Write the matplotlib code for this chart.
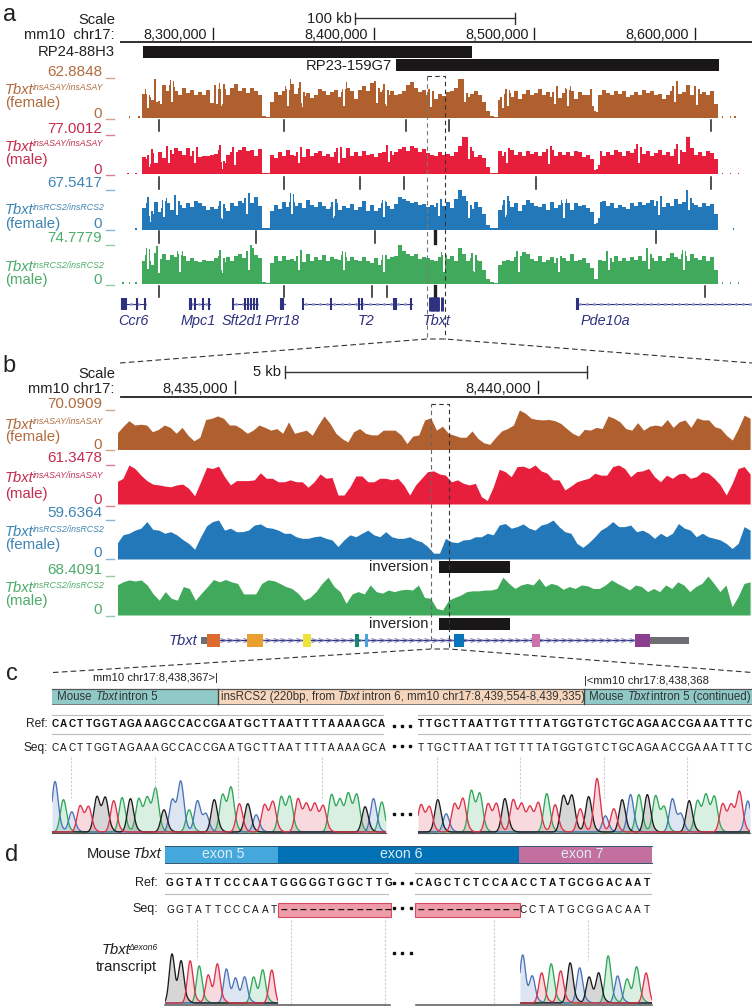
import numpy as np
import matplotlib
matplotlib.use('Agg')
import matplotlib.pyplot as plt
from matplotlib.patches import Rectangle

plt.rcParams['font.family'] = ['Liberation Sans', 'DejaVu Sans']

# ---- panel a, coverage in % of the track maximum, bins of about 2.5 kb
a_brown = [62,50,46,83,37,84,70,80,68,60,76,64,72,60,66,58,72,38,70,62,74,58,78,88,70,78,64,76,68,60,
           4,3,
           42,66,58,68,60,88,62,76,56,64,52,60,74,70,58,66,72,55,62,78,68,48,72,82,70,90,78,66,72,60,
           68,58,62,70,84,92,78,66,72,60,58,50,62,56,66,70,76,100,82,54,62,70,60,40,18,
           4,3,
           45,52,60,55,68,48,62,72,60,64,74,58,66,55,70,52,64,60,70,48,66,60,58,62,
           16,
           60,72,64,58,70,62,68,55,60,66,58,72,64,70,58,62,48,60,68,80,62,66,84,60,68,62,66,58,68,35]
a_red = [45,40,55,30,58,42,60,52,66,60,50,66,48,58,44,48,46,50,52,62,30,50,58,48,62,70,60,62,48,64,
         4,3,
         50,42,58,46,62,50,46,58,44,64,48,54,60,46,52,44,56,60,42,66,48,58,46,60,50,52,44,54,58,62,
         50,56,64,70,60,72,66,58,64,54,50,46,56,50,52,48,56,72,95,78,60,45,50,42,18,
         4,3,
         60,46,56,62,50,58,48,60,52,56,46,58,52,62,48,56,50,58,46,60,56,44,50,38,
         12,
         50,46,58,50,62,56,48,60,54,64,58,52,60,48,54,62,50,58,46,64,52,58,94,66,50,56,48,60,54,40]
a_blue = [55,68,40,70,45,62,68,50,72,62,54,66,58,72,66,60,50,58,52,60,54,46,68,60,72,66,78,68,82,60,
          4,3,
          48,62,52,70,58,76,60,68,54,74,62,56,70,60,52,58,66,50,60,54,64,50,58,72,48,62,46,54,62,60,
          52,64,82,76,72,68,70,62,64,58,62,56,66,60,70,54,76,100,86,60,52,70,56,38,12,
          4,3,
          50,62,72,56,66,48,62,74,68,60,58,64,50,70,54,62,56,66,50,68,60,62,54,44,
          14,
          58,72,60,66,54,62,58,52,68,60,70,62,66,74,60,72,56,66,60,78,64,70,100,68,62,58,66,60,64,38]
a_green = [60,75,50,80,55,76,62,74,70,64,72,58,66,60,56,62,60,58,66,72,56,70,60,72,78,66,70,92,74,66,
           4,3,
           55,72,60,72,62,64,58,74,56,76,60,70,62,74,58,68,64,62,70,58,68,62,58,70,60,54,66,50,62,64,
           68,72,100,84,78,72,76,64,70,66,62,58,68,60,64,72,60,92,78,60,66,62,58,36,14,
           4,3,
           50,60,62,58,70,60,82,78,64,60,72,56,62,68,54,60,66,58,76,60,62,66,54,40,
           14,
           62,58,70,56,72,60,66,58,68,62,72,60,76,66,60,72,58,66,80,70,64,72,60,78,66,62,72,60,70,36]
# narrow coverage drops seen in each track, kb
a_drops = [[8259.6,8265.2,8274.5,8302.5,8305.6,8347.3,8355.4,8382.1,8402.7,8407.7,8436.3,8457.4,8481.1,8484.2,
            8513.4,8521.5,8537.1,8588.1,8601.8],
           [8260.8,8273.2,8288.8,8305.6,8313.7,8354.1,8379.0,8410.1,8459.9,8483.6,8509.7,8540.8,8565.7,8590.6],
           [8260.8,8270.1,8278.2,8305.6,8321.2,8349.2,8375.9,8407.0,8441.3,8459.9,8483.0,8519.0,8540.8,8578.2,8596.8],
           [8259.6,8267.0,8279.5,8305.6,8323.0,8354.1,8382.1,8407.0,8444.4,8463.0,8491.0,8515.9,8547.1,8571.9,8593.7]]
a_maxima = ['62.8848', '77.0012', '67.5417', '74.7779']
a_start = 8255800
a_bin = 2490
a_ticks = [8300000, 8400000, 8500000, 8600000]
a_bacs = [('RP24-88H3', 8256400, 8461200), ('RP23-159G7', 8413900, 8614900)]
a_marks = [[8266700, 8343900, 8420100, 8446900, 8609900],
           [8266700, 8343900, 8391500, 8418900, 8501000, 8609900],
           [8266700, 8326800, 8400800, 8438150, 8575700],
           [8266700, 8343900, 8398900, 8408300, 8438150, 8606200]]
a_dots = [[8248000, 8254000, 8617000, 8622000, 8625000],
          [8247000, 8252000, 8617000, 8622000, 8627000],
          [8252000, 8624000],
          [8244000, 8248000, 8252000, 8617000, 8622000, 8627000]]

# gene models in kb
gene_names = ['Ccr6', 'Mpc1', 'Sft2d1', 'Prr18', 'T2', 'Pde10a']
gene_label_kb = [8250.2, 8290.7, 8318.0, 8343.0, 8395.2, 8543.9]
gene_spans = [(8242.7, 8258.3), (8285.1, 8298.1), (8312.4, 8328.0), (8341.7, 8344.8), (8356.0, 8423.8), (8526.5, 8634.2)]
gene_exons = [[8243.4, 8244.6, 8245.9, 8252.7, 8257.7],
              [8285.4, 8286.3, 8288.8, 8293.8, 8297.8],
              [8312.4, 8319.9, 8321.8, 8323.6, 8325.5, 8327.4],
              [8342.2, 8343.0, 8343.8],
              [8356.0, 8373.4, 8390.9, 8392.7, 8412.6, 8413.9, 8423.5],
              [8526.5, 8526.9]]
tbxt_exons_a = [8434.9, 8436.0, 8437.1, 8438.2, 8439.3, 8440.2, 8442.3]

# ---- panel b, coverage in % of the track maximum, about 100 bp steps
b_brown = [41,58,73,62,64,62,45,51,62,56,41,56,36,22,31,76,79,85,79,62,62,53,41,49,62,56,49,53,41,70,
           41,45,49,36,62,85,66,41,28,19,45,53,41,
           37,37,49,49,49,37,15,34,37,75,80,49,59,41,36,31,31,47,28,17,13,31,47,53,62,100,92,79,76,75,
           76,73,66,53,41,34,51,49,56,53,85,79,70,53,49,68,49,59,62,59,76,56,70,75,56,80,75,75,58,53,
           36,24,53,87,79]
b_red = [57,66,100,91,74,60,51,49,46,44,49,51,40,21,57,94,91,97,70,49,60,60,60,62,80,66,66,57,57,62,
         57,57,43,57,77,66,68,23,23,44,72,72,57,
         57,66,66,62,66,49,23,49,66,83,85,77,74,57,62,53,49,53,19,9,44,89,83,70,96,97,91,100,85,79,
         62,62,36,46,57,62,66,79,74,74,96,100,91,70,83,85,91,70,57,74,66,77,79,66,70,83,79,66,49,23,
         53,91,96,77]
b_blue = [40,62,66,74,79,96,76,74,66,70,62,50,40,25,57,85,96,100,74,79,70,70,74,87,90,81,79,74,66,66,
          57,53,53,57,59,53,49,32,49,62,57,66,74,62,57,70,57,53,53,57,49,44,32,15,15,53,44,42,49,50,
          57,57,66,62,87,91,79,83,90,79,74,87,91,100,83,70,66,40,30,42,57,74,83,96,83,83,87,70,74,66,
          53,66,57,66,91,79,74,57,66,57,53,49,40,27,40,83,74]
b_green = [77,85,90,87,90,77,54,38,60,43,38,73,68,38,56,73,91,85,91,85,81,54,54,54,81,90,88,81,73,68,
           56,38,45,60,81,97,73,60,30,54,60,54,77,60,56,64,60,64,66,64,77,45,43,17,13,38,45,51,60,62,
           62,64,64,68,97,81,68,77,81,77,94,73,81,77,66,73,68,77,75,68,68,77,90,81,73,64,77,73,60,68,
           60,77,68,85,77,60,73,81,100,81,60,77,21,47,81,85]
b_maxima = ['70.0909', '61.3478', '59.6364', '68.4091']
b_start = 8433053
b_end = 8443499
b_ticks = [8435000, 8440000]
inversion = (8438366, 8439537)
tbxt_utr = [(8434431, 8434538), (8441848, 8442491)]
tbxt_exons = [(8434538, 8434752), (8435198, 8435462), (8436122, 8436254), (8436980, 8437046),
              (8437145, 8437194), (8438613, 8438778), (8439900, 8440032), (8441592, 8441848)]
tbxt_colors = ['#dd6a2e', '#eaa030', '#ece33c', '#0f8a6c', '#4aa5dd', '#0a74b8', '#cc74aa', '#8c3f90']

# ---- panels c and d, sequences and peak heights
c_ref_l = 'CACTTGGTAGAAAGCCACCGAATGCTTAATTTTAAAAGCA'
c_ref_r = 'TTGCTTAATTGTTTTATGGTGTCTGCAGAACCGAAATTTC'
c_peak_l = [50,32,20,26,25,35,34,31,34,33,33,34,43,22,32,50,22,31,18,32,37,44,28,28,17,27,30,35,35,33,
            28,28,26,37,32,38,37,25,33,30]
c_peak_r = [27,25,32,18,28,33,41,38,28,28,33,32,28,25,29,38,27,36,36,23,35,53,16,23,32,37,37,37,36,25,
            33,18,31,31,37,35,28,27,40,31]
d_ref_l = 'GGTATTCCCAATGGGGGTGGCTTG'
d_ref_r = 'CAGCTCTCCAACCTATGCGGACAAT'
d_seq_l = 'GGTATTCCCAAT'
d_seq_r = 'CCTATGCGGACAAT'
d_peak_l = [49,42,42,37,28,39,34,25,26,26,33,33]
d_peak_r = [48,27,30,39,32,40,35,26,30,47,27,24,36,30]

brown, red, blue, green = '#b0602e', '#e81f3c', '#2378b9', '#41a95b'
label_cols = ['#b06b3e', '#c32c4c', '#3f85b3', '#4dab6a']
sup_a = ['insASAY/insASAY', 'insASAY/insASAY', 'insRCS2/insRCS2', 'insRCS2/insRCS2']
sexes = ['(female)', '(male)', '(female)', '(male)']
base_cols = {'A': '#2fa75a', 'C': '#4a74b8', 'G': '#1c1c1c', 'T': '#dd3148'}
dark = '#231f20'
navy = '#2e3180'

W, H = 752, 1008
fig = plt.figure(figsize=(W / 100, H / 100), dpi=100)
ov = fig.add_axes([0, 0, 1, 1], zorder=5)
ov.set_xlim(0, W)
ov.set_ylim(H, 0)
ov.axis('off')
ov.patch.set_alpha(0)


def track_ax(x0, x1, ytop, ybot):
    a = fig.add_axes([x0 / W, 1 - ybot / H, (x1 - x0) / W, (ybot - ytop) / H], zorder=2)
    a.axis('off')
    a.patch.set_alpha(0)
    return a


def txt(x, y, s, size=10.6, color=dark, ha='right', **kw):
    ov.text(x, y, s, fontsize=size, color=color, ha=ha, va='center', **kw)


def row_labels(i, maxlab, y_max, y_tm, y_tb, y_sex, y_0, y_t0, y_base_tick):
    c = label_cols[i]
    txt(102, y_max, maxlab, size=11, color=c)
    ov.plot([106, 114], [y_t0, y_t0], color=c, lw=1, alpha=.6)
    ov.plot([106, 114], [y_base_tick, y_base_tick], color=c, lw=1, alpha=.6)
    txt(5, y_tb, 'Tbxt', color=c, ha='left', style='italic')
    txt(33, y_tm, sup_a[i], size=6.3, color=c, ha='left', style='italic')
    txt(5, y_sex, sexes[i], size=10.8, color=c, ha='left')
    txt(102, y_0, '0', size=11, color=c)


# ---- panel a
g0, g1 = 8300000 + (120 - 213) * 622.3, 8300000 + (752 - 213) * 622.3
top = track_ax(120, 752, 0, 345)
top.set_xlim(g0, g1)
top.set_ylim(345, 0)
txt(3, 15, 'a', size=17, ha='left')
txt(115, 20, 'Scale')
txt(115, 35, 'mm10  chr17:')
txt(352, 19, '100 kb')
top.plot([8388400, 8487900], [18, 18], color='#333333', lw=1)
for g in (8388400, 8487900):
    top.plot([g, g], [13, 24], color='#333333', lw=1)
top.plot([g0, g1], [42, 42], color=dark, lw=1.3)
for g in a_ticks:
    top.plot([g, g], [28, 39], color=dark, lw=1)
    ov.text(213 + (g - 8300000) / 622.3 - 6, 35, format(g, ','), fontsize=10.4, color=dark, ha='right', va='center')
for k, (name, s, e) in enumerate(a_bacs):
    top.add_patch(Rectangle((s, 46 + 13 * k), e - s, 12, color='#1a1718', lw=0))
txt(115, 52, 'RP24-88H3')
txt(392, 66, 'RP23-159G7')

a_rows = [(79, 118, a_brown, brown), (135, 174.5, a_red, red), (190, 229.5, a_blue, blue), (245, 284, a_green, green)]
a_mark_rows = [(120, 131), (177, 189), (231, 243), (286, 297)]
fine_bin = a_bin / 4
for i, (yt, yb, vals, col) in enumerate(a_rows):
    ax = track_ax(120, 752, yt, yb)
    ax.set_xlim(g0, g1)
    ax.set_ylim(0, 100)
    fine = np.repeat(np.array(vals, dtype=float), 4)
    xs = a_start + fine_bin * (np.arange(len(fine)) + 0.5)
    for d in a_drops[i]:
        j = int((d * 1000 - a_start) / fine_bin)
        fine[j - 3:j - 1] = np.minimum(fine[j - 3:j - 1] * 1.22, 100)
        fine[j + 1:j + 3] = np.minimum(fine[j + 1:j + 3] * 1.18, 100)
        fine[j - 1:j + 1] *= 0.5
    ax.bar(xs, fine, width=fine_bin, color=col, lw=0)
    ax.bar(a_dots[i], [4] * len(a_dots[i]), width=1000, color=col, lw=0)
    for g in a_marks[i]:
        lw = 2.4 if g == 8438150 else 1.1
        top.plot([g, g], a_mark_rows[i], color=dark, lw=lw)
row_labels(0, a_maxima[0], 72.5, 87, 90, 103, 114, 78, 119)
row_labels(1, a_maxima[1], 128.7, 144, 147, 160, 170, 134.5, 175)
row_labels(2, a_maxima[2], 183, 208, 210, 224, 224, 189.5, 230)
row_labels(3, a_maxima[3], 238, 265, 267, 280, 280, 245, 285)

# gene models
ga = track_ax(120, 752, 296, 312)
ga.set_xlim(g0 / 1000, g1 / 1000)
ga.set_ylim(-1, 1)
for name, lab, (s, e), ex in zip(gene_names, gene_label_kb, gene_spans, gene_exons):
    ga.plot([s, e], [0, 0], color=navy, lw=.8)
    cx = np.arange(s + 2, e, 4.4)
    ga.plot(cx, np.zeros(len(cx)), ls='', marker='.', ms=2, color='#8f90c0')
    ga.vlines(ex, -.75, .75, color=navy, lw=1.5)
    ov.text(213 + (lab * 1000 - 8300000) / 622.3, 321, name, fontsize=10.4, color=navy,
            style='italic', ha='center', va='center')
ga.vlines(tbxt_exons_a, -.9, .9, color=navy, lw=2.1)
ov.text(437, 321, 'Tbxt', fontsize=10.4, color=navy, style='italic', ha='center', va='center')

# dashed zoom frames
ov.plot([427, 427], [76, 339], color='#777777', lw=.8, ls=(0, (4, 3)))
ov.plot([427, 444.5, 444.5], [76, 76, 339], color='#333333', lw=.8, ls=(0, (4, 3)))
ov.plot([120, 427, 444.5, 752], [363, 339, 339, 363], color='#333333', lw=.8, ls=(0, (5, 3)))

# ---- panel b
bt = track_ax(118, 752, 350, 650)
b0 = 8435000 + (118 - 235) * 16.5
b1 = 8435000 + (752 - 235) * 16.5
bt.set_xlim(b0, b1)
bt.set_ylim(650, 350)
txt(2, 366, 'b', size=17, ha='left')
txt(115, 374, 'Scale')
txt(115, 389, 'mm10 chr17:')
txt(281, 372, '5 kb')
bt.plot([8435825, 8440800], [372, 372], color='#333333', lw=1)
for g in (8435825, 8440800):
    bt.plot([g, g], [366, 378], color='#333333', lw=1)
bt.plot([8433120, b1], [397, 397], color=dark, lw=1.3)
for g in b_ticks:
    bt.plot([g, g], [381, 393], color=dark, lw=1)
    ov.text(235 + (g - 8435000) / 16.5 - 7, 389, format(g, ','), fontsize=10.6, color=dark, ha='right', va='center')

b_rows = [(410, 449.5, b_brown, brown), (465, 504, b_red, red), (520, 559, b_blue, blue), (576, 615, b_green, green)]
for yt, yb, vals, col in b_rows:
    ax = track_ax(118, 752, yt, yb)
    ax.set_xlim(b0, b1)
    ax.set_ylim(0, 100)
    ax.fill_between(np.linspace(b_start, b_end, len(vals)), vals, 0, color=col, lw=0)
row_labels(0, b_maxima[0], 403.5, 422, 425, 437, 445, 410, 450)
row_labels(1, b_maxima[1], 458, 476, 478, 494, 500, 465, 506)
row_labels(2, b_maxima[2], 513, 529, 532, 545, 553, 520, 559)
row_labels(3, b_maxima[3], 570, 586, 588, 601, 610, 576, 616)

for y in (561, 618):
    bt.add_patch(Rectangle((inversion[0], y), inversion[1] - inversion[0], 12.5, color='#1a1718', lw=0))
    txt(428, y + 6, 'inversion')

# Tbxt gene model in b
bt.plot([8434752, 8441592], [640, 640], color=navy, lw=1)
cx = np.arange(8434800, 8441592, 125)
bt.plot(cx, [640] * len(cx), ls='', marker='$>$', ms=4, mew=.1, color='#6f70b0')
for s, e in tbxt_utr:
    bt.add_patch(Rectangle((s, 637), e - s, 7, color='#6d6e71', lw=0))
for (s, e), c in zip(tbxt_exons, tbxt_colors):
    bt.add_patch(Rectangle((s, 634), e - s, 13, color=c, lw=0, zorder=3))
txt(197, 641, 'Tbxt', color=navy, style='italic')

ov.plot([431, 431], [648, 404], color='#666666', lw=.8, ls=(0, (4, 3)))
ov.plot([431, 449, 449], [404, 404, 648], color='#333333', lw=.8, ls=(0, (4, 3)))
ov.plot([53, 431, 449, 752], [672.5, 649, 649, 672.5], color='#333333', lw=.8, ls=(0, (5, 3)))


def chrom(x0, dx, seq, peaks, xa, xb, ybase, height, sigma=.36):
    a = track_ax(xa, xb, ybase - height, ybase + 1)
    a.set_xlim((xa - x0) / dx, (xb - x0) / dx)
    a.set_ylim(-1, height)
    t = np.linspace((xa - x0) / dx, (xb - x0) / dx, 1400)
    for b in 'ACGT':
        y = np.zeros_like(t)
        for i, (s, p) in enumerate(zip(seq, peaks)):
            if s == b:
                y += p * np.exp(-.5 * ((t - i) / sigma) ** 2)
            elif i > 0 and seq[i - 1] == b:
                y += .07 * peaks[i - 1] * np.exp(-.5 * ((t - i + .3) / sigma) ** 2)
        a.fill_between(t, y, 0, color=base_cols[b], alpha=.18, lw=0)
        a.plot(t, y, color=base_cols[b], lw=.95)
    return a


def letters(x0, dx, seq, y, bold=False, size=7.2):
    for i, s in enumerate(seq):
        ov.text(x0 + i * dx, y, s, fontsize=size, color='#111111', ha='center', va='center',
                fontweight='bold' if bold else 'normal')


def ellipsis(xs, y):
    ov.plot(xs, [y] * len(xs), ls='', marker='s', ms=2, color='#111111')


# ---- panel c
txt(6, 674, 'c', size=17, ha='left')
txt(93, 678, 'mm10 chr17:8,438,367>|', size=8.1, ha='left')
txt(584, 681, '|<mm10 chr17:8,438,368', size=8.1, ha='left')
c_bar = [(52, 218, '#8fcac9'), (218, 584, '#f6d6bd'), (584, 752, '#8fcac9')]
for s, e, c in c_bar:
    ov.add_patch(Rectangle((s, 689), e - s, 15, color=c, lw=0))
ov.plot([52, 752], [689, 689], color='#555555', lw=.9)
ov.plot([52, 752], [704, 704], color='#777777', lw=.7)
for x in (218, 584):
    ov.plot([x, x], [689, 704], color='#444444', lw=1)
ctxt = '#333333'
txt(57, 697, 'Mouse', size=8.3, color=ctxt, ha='left')
txt(95.5, 697, 'Tbxt', size=8.3, color=ctxt, ha='left', style='italic')
txt(119, 697, 'intron 5', size=8.3, color=ctxt, ha='left')
txt(221, 697, 'insRCS2 (220bp, from', size=8.3, color=ctxt, ha='left')
txt(338, 697, 'Tbxt', size=8.3, color=ctxt, ha='left', style='italic')
txt(362, 697, 'intron 6, mm10 chr17:8,439,554-8,439,335)', size=8.3, color=ctxt, ha='left')
txt(589, 697, 'Mouse', size=8.3, color=ctxt, ha='left')
txt(627.5, 697, 'Tbxt', size=8.3, color=ctxt, ha='left', style='italic')
txt(651, 697, 'intron 5 (continued)', size=8.3, color=ctxt, ha='left')

for y in (714.5, 733.5):
    ov.plot([52, 383], [y, y], color='#bbbbbb', lw=.8)
    ov.plot([418, 750], [y, y], color='#bbbbbb', lw=.8)
txt(48, 724, 'Ref:', size=8.6)
txt(48, 748, 'Seq:', size=8.6)
letters(55, 8.38, c_ref_l, 724, bold=True)
letters(421, 8.38, c_ref_r, 724, bold=True)
letters(55, 8.38, c_ref_l, 748)
letters(421, 8.38, c_ref_r, 748)
ellipsis([394, 402, 410], 726)
ellipsis([394, 402, 410], 746)
ellipsis([394, 402, 410], 814)
for x in (71, 154.5, 238, 322, 437, 520, 604, 687):
    ov.plot([x, x], [757, 800], color='#cccccc', lw=.8, ls=(0, (2, 1.5)))
chrom(55, 8.38, c_ref_l, c_peak_l, 52, 386, 832, 60)
chrom(421, 8.38, c_ref_r, c_peak_r, 418, 750, 832, 60)
ov.plot([52, 386], [832.5, 832.5], color='#555555', lw=.8)
ov.plot([418, 750], [832.5, 832.5], color='#555555', lw=.8)

# ---- panel d
txt(5, 855, 'd', size=17, ha='left')
txt(131, 854, 'Mouse', ha='right')
txt(161, 854, 'Tbxt', style='italic')
d_bar = [(165, 278, '#45a8dc', 'exon 5', 223), (278, 519, '#0071b5', 'exon 6', 401), (519, 652, '#c36f9f', 'exon 7', 582)]
for s, e, c, lab, cx_lab in d_bar:
    ov.add_patch(Rectangle((s, 846), e - s, 17, color=c, lw=0))
    txt(cx_lab, 854.5, lab, size=10.2, color='#dcecf5', ha='center')
ov.plot([165, 652], [846, 846], color='#33556b', lw=.7)
ov.plot([165, 652], [863, 863], color='#33556b', lw=.7)
for y in (872.5, 894):
    ov.plot([165, 388], [y, y], color='#bbbbbb', lw=.8)
    ov.plot([415, 651], [y, y], color='#bbbbbb', lw=.8)
txt(158, 883, 'Ref:', size=9)
txt(158, 909, 'Seq:', size=9)
letters(170, 9.48, d_ref_l, 883, bold=True)
letters(419, 9.5, d_ref_r, 883, bold=True)
letters(170, 9.48, d_seq_l, 910)
letters(523, 9.55, d_seq_r, 910)
for s, e, n, x0 in ((277.5, 391, 12, 284), (415, 520, 11, 421)):
    ov.add_patch(Rectangle((s, 903), e - s, 14, facecolor='#ee9ca8', edgecolor='#d9485f', lw=.8))
    letters(x0, 9.48, '\u2013' * n, 909.5, bold=True, size=8.5)
ellipsis([393.5, 402, 410.5], 883)
ellipsis([393.5, 402, 410.5], 908)
ellipsis([393.5, 402, 410.5], 953)
for x, yb in ((197, 960), (291, 1005), (385, 1005), (494, 1005), (588, 960)):
    ov.plot([x, x], [920, yb], color='#cccccc', lw=.8, ls=(0, (2, 1.5)))
txt(130, 950, 'Tbxt', style='italic')
txt(157, 947, '\u0394exon6', size=6.2, ha='right', style='italic')
txt(157, 967, 'transcript')
chrom(172, 9.07, d_seq_l, d_peak_l, 165, 278, 1003, 55, sigma=.3)
chrom(522.7, 9.49, d_seq_r, d_peak_r, 520, 652, 1003, 55, sigma=.3)
ov.plot([165, 390], [1005, 1005], color='#555555', lw=1.1)
ov.plot([416, 652], [1005, 1005], color='#555555', lw=1.1)

fig.savefig('out.png', dpi=100)
